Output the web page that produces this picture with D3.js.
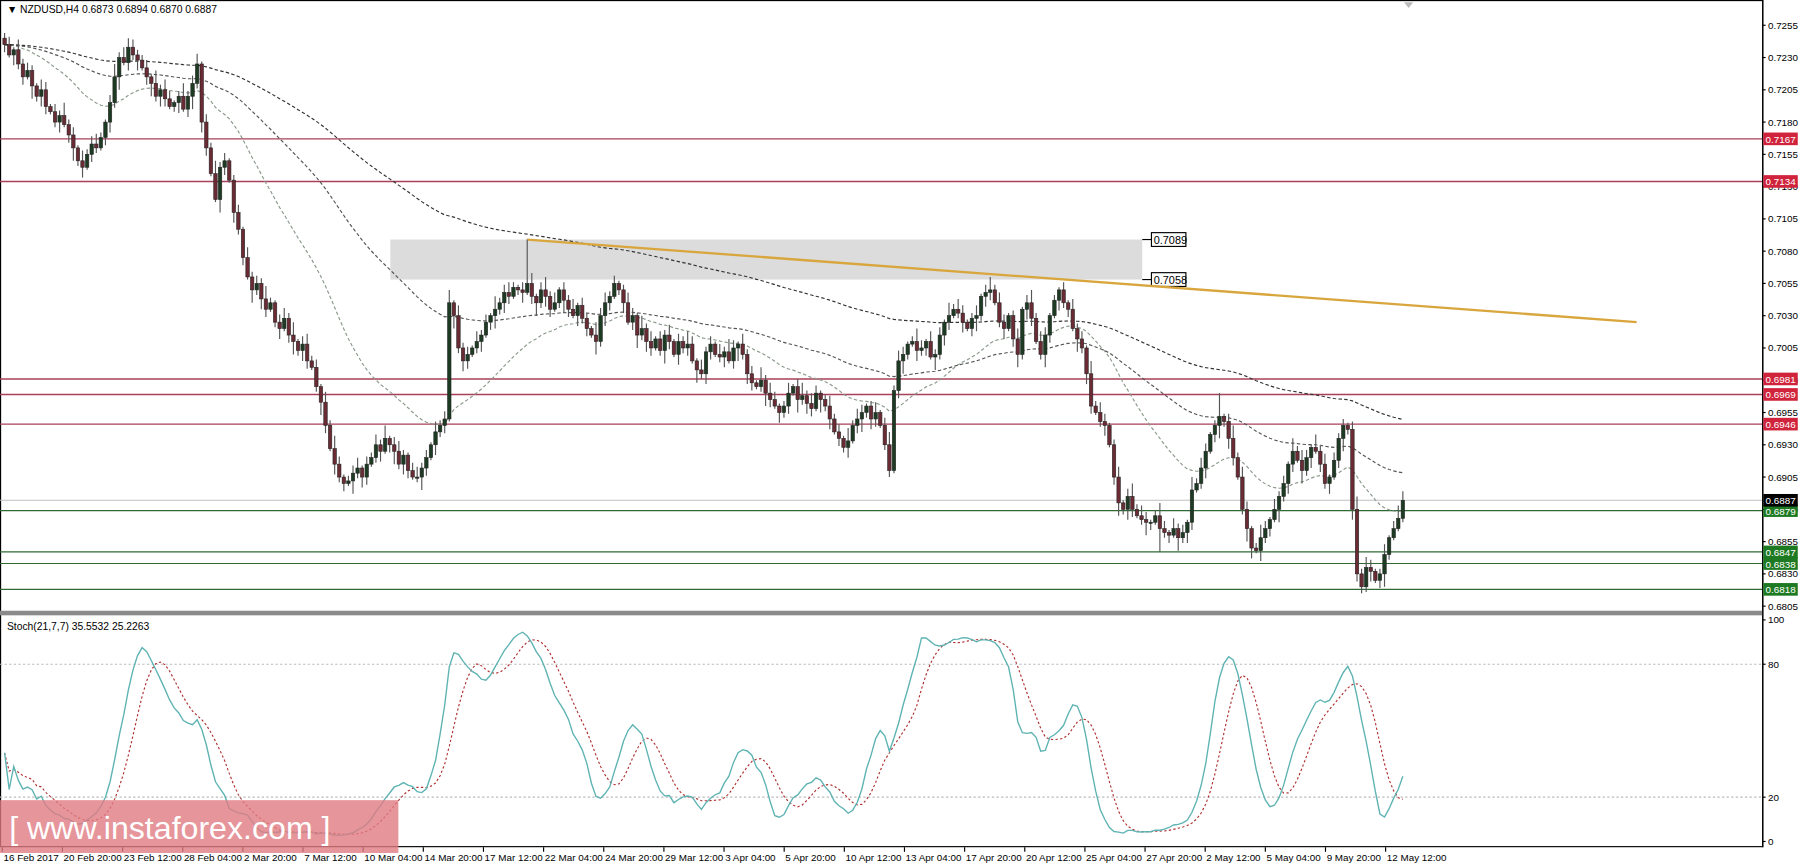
<!DOCTYPE html>
<html><head><meta charset="utf-8">
<script src="https://cdn.jsdelivr.net/npm/d3@7"></script>
<style>body{margin:0;background:#fff}svg{display:block}text{font-family:"Liberation Sans",Arimo,sans-serif}</style>
</head><body><svg id="c" width="1800" height="868"></svg>
<script>
// closes in pips (price*10000)
const closes=[7240,7232,7236,7225,7215,7220,7208,7200,7205,7192,
7188,7180,7185,7178,7170,7160,7150,7145,7155,7163,
7160,7168,7180,7195,7215,7230,7226,7238,7232,7228,
7222,7215,7210,7200,7205,7198,7192,7195,7200,7190,
7200,7210,7225,7180,7160,7140,7120,7145,7150,7135,
7110,7097,7075,7060,7050,7055,7043,7035,7040,7025,
7020,7028,7015,7010,7003,7008,6995,6990,6975,6963,
6945,6927,6915,6905,6900,6902,6908,6912,6905,6915,
6920,6930,6925,6935,6930,6925,6915,6922,6910,6905,
6905,6912,6920,6930,6940,6945,6950,7040,7030,7005,
6995,7000,7005,7010,7015,7025,7030,7035,7040,7048,
7045,7052,7050,7048,7055,7045,7040,7050,7045,7035,
7040,7050,7042,7035,7030,7038,7028,7020,7015,7010,
7030,7040,7045,7055,7050,7040,7025,7030,7015,7020,
7010,7005,7012,7003,7015,7010,7000,7010,7005,7008,
6995,6988,6985,7002,7008,7000,6998,7002,6995,7005,
7008,7000,6985,6978,6975,6980,6970,6965,6960,6955,
6960,6970,6975,6965,6968,6962,6958,6970,6965,6960,
6950,6940,6935,6928,6933,6945,6950,6955,6960,6950,
6955,6945,6930,6910,6972,6995,7000,7008,7010,7003,
7005,7010,6998,7000,7015,7025,7030,7035,7032,7025,
7020,7028,7030,7045,7048,7050,7040,7025,7020,7030,
7012,7000,7035,7040,7028,7010,7000,7015,7030,7042,
7050,7040,7035,7020,7012,7005,6985,6960,6955,6948,
6945,6930,6905,6885,6880,6890,6880,6875,6872,6870,
6870,6875,6865,6862,6860,6865,6858,6862,6870,6895,
6900,6912,6925,6938,6945,6952,6948,6935,6920,6905,
6880,6865,6850,6848,6858,6865,6872,6880,6890,6900,
6915,6925,6918,6910,6920,6928,6925,6915,6900,6905,
6918,6935,6945,6942,6880,6830,6820,6835,6832,6825,
6830,6845,6858,6865,6873,6887];
// wick lengths in units of 2 pips
const wickUp  ="2314232143132523142342135241322315243125234132523123142325213425134231425312341324251342134231423514231423152342132413524132413215342312431524132413253142314253142315243124135243124231524312413524312531423152431241352431241352431253142315243124135243125314231524312413524312531423152431524132413524312413521";
const wickDown="3142315243124135241321342513241352431241352431253142315243124135243125314231524312413524312531423152431241352431241352431253142315243124135243125314231524312413524312531423152431524132413524312413521423152431241352431241352431253142315243124135243125314231524312413524312531423152431524132413524312413521";
const extremes=[[27,"h",7245],[46,"l",7118],[114,"h",7089],[193,"l",6905],[230,"h",7052],[252,"l",6847],[265,"h",6970],[272,"l",6842],[292,"h",6950],[296,"l",6815],[305,"h",6894],[305,"l",6870]];
const priceTicks=[0.7255,0.7230,0.7205,0.7180,0.7155,0.7130,0.7105,0.7080,0.7055,0.7030,0.7005,0.6980,0.6955,0.6930,0.6905,0.6880,0.6855,0.6830,0.6805];
const redLevels=[0.7167,0.7134,0.6981,0.6969,0.6946];
const greenLevels=[0.6879,0.6847,0.6838,0.6818];
const lastPrice=0.6887;
const zone=[0.7058,0.7089];
const trend=[[114,0.7089],[356,0.7025]];
const dateLabels=["16 Feb 2017","20 Feb 20:00","23 Feb 12:00","28 Feb 04:00","2 Mar 20:00","7 Mar 12:00","10 Mar 04:00","14 Mar 20:00","17 Mar 12:00","22 Mar 04:00","24 Mar 20:00","29 Mar 12:00","3 Apr 04:00","5 Apr 20:00","10 Apr 12:00","13 Apr 04:00","17 Apr 20:00","20 Apr 12:00","25 Apr 04:00","27 Apr 20:00","2 May 12:00","5 May 04:00","9 May 20:00","12 May 12:00"];
const stochTicks=[100,80,20,0];

const n=closes.length;
const bars=closes.map((c,i)=>{const o=i?closes[i-1]:c+5;const hi=Math.max(o,c)+2*(+wickUp[i]||1),lo=Math.min(o,c)-2*(+wickDown[i]||1);return{o:o/1e4,c:c/1e4,h:hi/1e4,l:lo/1e4};});
bars[n-1].o=0.6873;
extremes.forEach(([i,t,v])=>{if(t=="h")bars[i].h=v/1e4;else bars[i].l=v/1e4;});

const svg=d3.select("#c").append("g").attr("transform","scale(1.148)");
const W=1535;
const x=d3.scaleLinear().domain([0,n-1]).range([4,1222]);
const y=d3.scaleLinear().domain([0.6805,0.7255]).range([528,22]);
const ys=d3.scaleLinear().domain([0,100]).range([733,540]);
const tickX=d3.scaleLinear().domain([0,dateLabels.length-1]).range([2,1207]);
const FS=8.6;

svg.append("rect").attr("x",0.5).attr("y",0.5).attr("width",W).attr("height",737).attr("fill","none").attr("stroke","#000");
svg.append("rect").attr("x",0).attr("y",532).attr("width",W+1).attr("height",4).attr("fill","#8a8a8a");

svg.append("rect").attr("x",340).attr("width",655).attr("y",y(zone[1])).attr("height",y(zone[0])-y(zone[1])).attr("fill","#dcdcdc");
zone.forEach(v=>{const g=svg.append("g");g.append("line").attr("x1",995).attr("x2",1003).attr("y1",y(v)).attr("y2",y(v)).attr("stroke","#000");
g.append("rect").attr("x",1003).attr("y",y(v)-6).attr("width",30).attr("height",12).attr("fill","#fff").attr("stroke","#000");
g.append("text").attr("x",1005).attr("y",y(v)+4).attr("font-size",9.5).text(v.toFixed(4));});

redLevels.forEach(v=>svg.append("line").attr("x1",0).attr("x2",W).attr("y1",y(v)).attr("y2",y(v)).attr("stroke","#a8405a").attr("stroke-width",1.2));
greenLevels.forEach(v=>svg.append("line").attr("x1",0).attr("x2",W).attr("y1",y(v)).attr("y2",y(v)).attr("stroke","#2f6a35").attr("stroke-width",1));
svg.append("line").attr("x1",0).attr("x2",W).attr("y1",y(lastPrice)).attr("y2",y(lastPrice)).attr("stroke","#c0c0c0");

function ema(p){let e=closes[0]/1e4;const k=2/(p+1);return closes.map(c=>(e=e+k*(c/1e4-e)));}
[[30,"#8a998a"],[80,"#555"],[170,"#333"]].forEach(([p,col])=>{
 svg.append("path").attr("d",d3.line().x((d,i)=>x(i)).y(d=>y(d))(ema(p))).attr("fill","none").attr("stroke",col).attr("stroke-width",1).attr("stroke-dasharray","3,2");});

svg.append("line").attr("x1",x(trend[0][0])).attr("y1",y(trend[0][1])).attr("x2",x(trend[1][0])).attr("y2",y(trend[1][1])).attr("stroke","#d8a63c").attr("stroke-width",2);

const cg=svg.append("g");
bars.forEach((b,i)=>{const cx=x(i);
 cg.append("line").attr("x1",cx).attr("x2",cx).attr("y1",y(b.h)).attr("y2",y(b.l)).attr("stroke","#555");
 const up=b.c>=b.o;cg.append("rect").attr("x",cx-1.5).attr("width",3).attr("y",y(Math.max(b.o,b.c))).attr("height",Math.max(1,Math.abs(y(b.o)-y(b.c))))
 .attr("fill",up?"#1d3b22":"#6b2b34").attr("stroke","#222").attr("stroke-width",0.5);});

svg.append("line").attr("x1",W+0.5).attr("x2",W+0.5).attr("y1",0).attr("y2",738).attr("stroke","#000");
priceTicks.forEach(v=>{svg.append("line").attr("x1",W).attr("x2",W+3).attr("y1",y(v)).attr("y2",y(v)).attr("stroke","#000");
 svg.append("text").attr("x",W+5).attr("y",y(v)+3).attr("font-size",FS).attr("fill","#000").text(v.toFixed(4));});
function tag(v,col){svg.append("rect").attr("x",W+1).attr("y",y(v)-5.5).attr("width",30).attr("height",11).attr("fill",col);
 svg.append("text").attr("x",W+3).attr("y",y(v)+3.5).attr("font-size",FS).attr("fill","#fff").text(v.toFixed(4));}
redLevels.forEach(v=>tag(v,"#d0243c"));greenLevels.forEach(v=>tag(v,"#1e7a22"));tag(lastPrice,"#000");

svg.append("text").attr("x",6).attr("y",11).attr("font-size",9).text("\u25BC NZDUSD,H4  0.6873 0.6894 0.6870 0.6887");
svg.append("path").attr("d","M1223,2 L1231,2 L1227,7 Z").attr("fill","#bbb");

const H=bars.map(b=>b.h),L=bars.map(b=>b.l),C=bars.map(b=>b.c);
const num=[],den=[];for(let i=0;i<n;i++){const s=Math.max(0,i-20);const hh=d3.max(H.slice(s,i+1)),ll=d3.min(L.slice(s,i+1));num.push(C[i]-ll);den.push(hh-ll);}
const K=num.map((v,i)=>{const s=Math.max(0,i-6);const d=d3.sum(den.slice(s,i+1));return d?100*d3.sum(num.slice(s,i+1))/d:50;});
const D=K.map((v,i)=>d3.mean(K.slice(Math.max(0,i-6),i+1)));
[80,20].forEach(v=>svg.append("line").attr("x1",0).attr("x2",W).attr("y1",ys(v)).attr("y2",ys(v)).attr("stroke","#bbb").attr("stroke-dasharray","2,2"));
svg.append("path").attr("d",d3.line().x((d,i)=>x(i)).y(d=>ys(d))(D)).attr("fill","none").attr("stroke","#b03030").attr("stroke-dasharray","2,2");
svg.append("path").attr("d",d3.line().x((d,i)=>x(i)).y(d=>ys(d))(K)).attr("fill","none").attr("stroke","#5fb3b3").attr("stroke-width",1.2);
svg.append("text").attr("x",6).attr("y",549).attr("font-size",9).text("Stoch(21,7,7) 35.5532 25.2263");
stochTicks.forEach(v=>{svg.append("line").attr("x1",W).attr("x2",W+3).attr("y1",ys(v)).attr("y2",ys(v)).attr("stroke","#000");
 svg.append("text").attr("x",W+5).attr("y",ys(v)+3).attr("font-size",FS).text(v);});

dateLabels.forEach((t,i)=>{const tx=tickX(i);svg.append("line").attr("x1",tx).attr("x2",tx).attr("y1",738).attr("y2",742).attr("stroke","#000");
 svg.append("text").attr("x",tx+1).attr("y",750).attr("font-size",8.6).text(t);});

svg.append("rect").attr("x",0).attr("y",697).attr("width",347).attr("height",46).attr("fill","#e07a82").attr("opacity",0.8);
svg.append("text").attr("x",8).attr("y",731).attr("font-size",28).attr("fill","#fff").text("[ www.instaforex.com ]");
</script></body></html>
